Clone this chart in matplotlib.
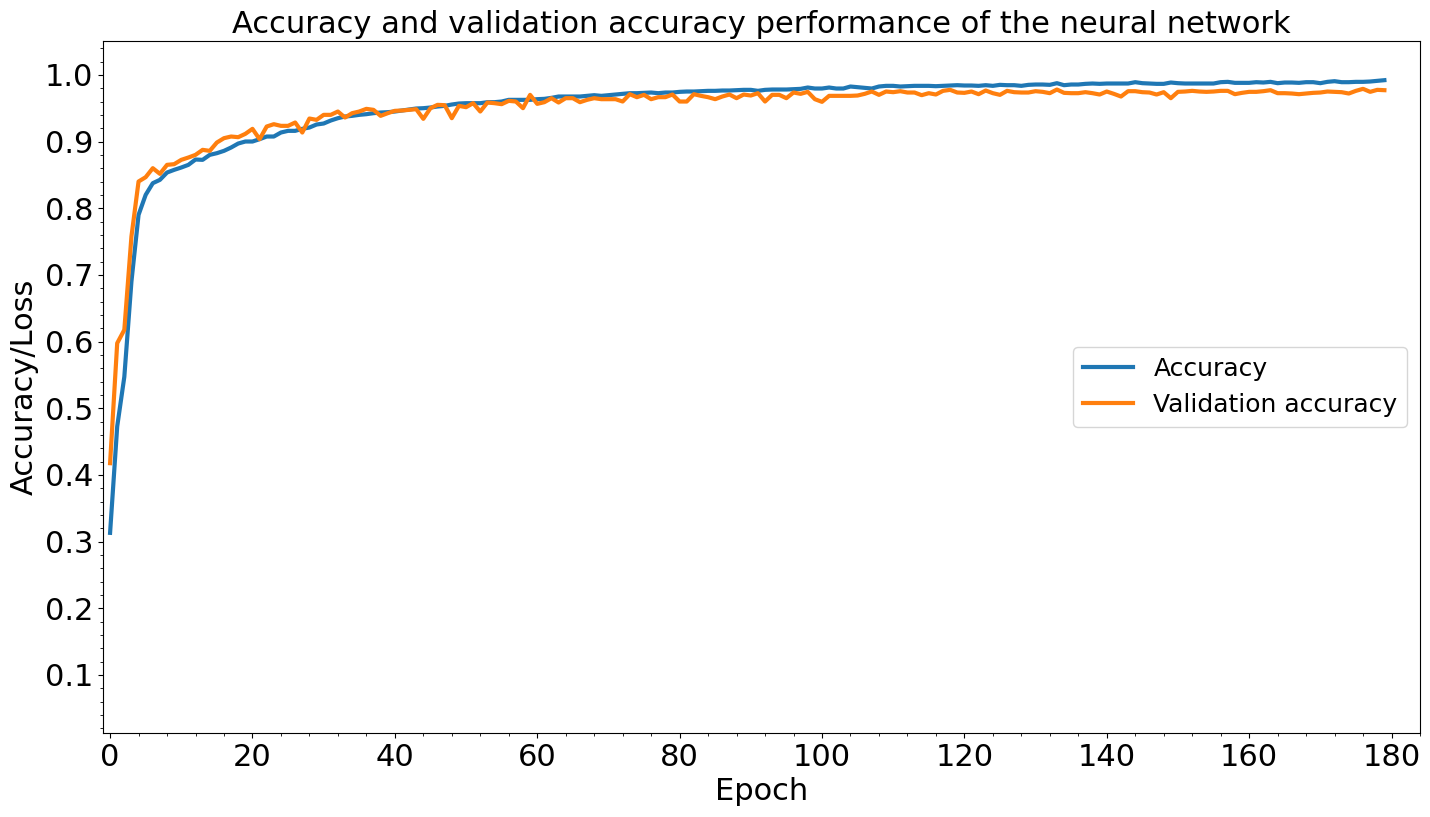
import numpy as np
import matplotlib
matplotlib.use("Agg")
import matplotlib.pyplot as plt
from matplotlib.ticker import AutoMinorLocator, MultipleLocator

# values, one per epoch (0..179)
accuracy = [
    0.313, 0.4725, 0.547, 0.69, 0.79, 0.82, 0.8375, 0.8425, 0.8535, 0.8575,
    0.861, 0.865, 0.873, 0.8725, 0.88, 0.8825, 0.886, 0.891, 0.897, 0.9,
    0.9, 0.9035, 0.9075, 0.9075, 0.9135, 0.916, 0.916, 0.919, 0.921, 0.9255,
    0.927, 0.9315, 0.935, 0.9375, 0.9385, 0.94, 0.941, 0.9425, 0.9435, 0.944,
    0.945, 0.9465, 0.948, 0.9495, 0.95, 0.951, 0.9525, 0.9535, 0.9555, 0.957,
    0.9575, 0.9575, 0.9575, 0.959, 0.959, 0.96, 0.9625, 0.9625, 0.9625, 0.9625,
    0.9635, 0.964, 0.9655, 0.9675, 0.9675, 0.9675, 0.9675, 0.9685, 0.9695, 0.9685,
    0.9695, 0.9705, 0.9715, 0.9725, 0.9725, 0.973, 0.9735, 0.9725, 0.9735, 0.9735,
    0.9745, 0.975, 0.975, 0.9755, 0.976, 0.976, 0.9765, 0.9765, 0.977, 0.9775,
    0.9775, 0.976, 0.9775, 0.978, 0.978, 0.978, 0.9785, 0.979, 0.981, 0.9795,
    0.9795, 0.981, 0.9795, 0.9795, 0.9825, 0.9815, 0.9805, 0.9795, 0.9825, 0.9835,
    0.9835, 0.9825, 0.983, 0.9835, 0.9835, 0.9835, 0.983, 0.9835, 0.984, 0.9845,
    0.984, 0.984, 0.9835, 0.9845, 0.9835, 0.985, 0.9845, 0.9845, 0.9835, 0.985,
    0.9855, 0.9855, 0.985, 0.9875, 0.9845, 0.9855, 0.9855, 0.9865, 0.987, 0.9865,
    0.987, 0.987, 0.987, 0.987, 0.989, 0.9875, 0.987, 0.9865, 0.9865, 0.9885,
    0.9875, 0.987, 0.987, 0.987, 0.987, 0.987, 0.989, 0.9895, 0.988, 0.988,
    0.988, 0.989, 0.9885, 0.9895, 0.9875, 0.9885, 0.9885, 0.988, 0.989, 0.989,
    0.9875, 0.9895, 0.9905, 0.989, 0.989, 0.9895, 0.9895, 0.99, 0.991, 0.992,
]
val_accuracy = [
    0.4175, 0.5975, 0.6175, 0.7575, 0.84, 0.8465, 0.86, 0.8515, 0.865, 0.866,
    0.8725, 0.876, 0.88, 0.8875, 0.886, 0.8985, 0.905, 0.9075, 0.9065, 0.9115,
    0.919, 0.9035, 0.9225, 0.926, 0.9235, 0.9235, 0.9285, 0.9135, 0.9345, 0.9325,
    0.94, 0.94, 0.945, 0.936, 0.9425, 0.945, 0.949, 0.9475, 0.9385, 0.9425,
    0.946, 0.9465, 0.9475, 0.9485, 0.934, 0.95, 0.955, 0.9545, 0.935, 0.9535,
    0.9515, 0.9575, 0.945, 0.9585, 0.9575, 0.956, 0.961, 0.96, 0.95, 0.97,
    0.9565, 0.959, 0.965, 0.9585, 0.965, 0.965, 0.959, 0.9625, 0.965, 0.9635,
    0.9635, 0.9635, 0.96, 0.971, 0.9665, 0.97, 0.9635, 0.9665, 0.9665, 0.9705,
    0.96, 0.96, 0.971, 0.9685, 0.9665, 0.9635, 0.9675, 0.9705, 0.965, 0.9705,
    0.969, 0.9725, 0.96, 0.97, 0.97, 0.965, 0.9735, 0.9715, 0.9745, 0.9635,
    0.9595, 0.9685, 0.9685, 0.9685, 0.9685, 0.969, 0.9715, 0.975, 0.97, 0.975,
    0.974, 0.9755, 0.9735, 0.9735, 0.9695, 0.9725, 0.9705, 0.976, 0.9775, 0.9735,
    0.973, 0.975, 0.971, 0.9765, 0.9725, 0.97, 0.976, 0.974, 0.9735, 0.9735,
    0.9755, 0.9745, 0.9725, 0.978, 0.973, 0.9725, 0.9725, 0.974, 0.9725, 0.9705,
    0.975, 0.9715, 0.9675, 0.9755, 0.9755, 0.974, 0.9735, 0.9705, 0.974, 0.965,
    0.9745, 0.975, 0.976, 0.975, 0.9745, 0.975, 0.976, 0.976, 0.971, 0.973,
    0.9745, 0.9745, 0.9755, 0.977, 0.9725, 0.9725, 0.972, 0.971, 0.972, 0.973,
    0.9735, 0.975, 0.9745, 0.974, 0.972, 0.976, 0.979, 0.9745, 0.9775, 0.977,
]
epochs = np.arange(len(accuracy))

fig, ax = plt.subplots(figsize=(14.3, 8.17), dpi=100)
fig.subplots_adjust(left=0.072, right=0.993, top=0.950, bottom=0.103)

ax.plot(epochs, accuracy, color="#1f77b4", lw=3, label="Accuracy")
ax.plot(epochs, val_accuracy, color="#ff7f0e", lw=3, label="Validation accuracy")

ax.set_xlim(-1, 184)
ax.set_ylim(0.013, 1.051)
ax.set_yticks(np.arange(0.1, 1.01, 0.1))
ax.xaxis.set_major_locator(MultipleLocator(20))
ax.xaxis.set_minor_locator(AutoMinorLocator(5))
ax.yaxis.set_minor_locator(AutoMinorLocator(5))
ax.tick_params(axis="both", which="major", labelsize=22)

ax.set_title("Accuracy and validation accuracy performance of the neural network", fontsize=22)
ax.set_xlabel("Epoch", fontsize=22)
ax.set_ylabel("Accuracy/Loss", fontsize=22)
ax.legend(loc="center right", fontsize=18)

fig.savefig("out.png", dpi=100)
